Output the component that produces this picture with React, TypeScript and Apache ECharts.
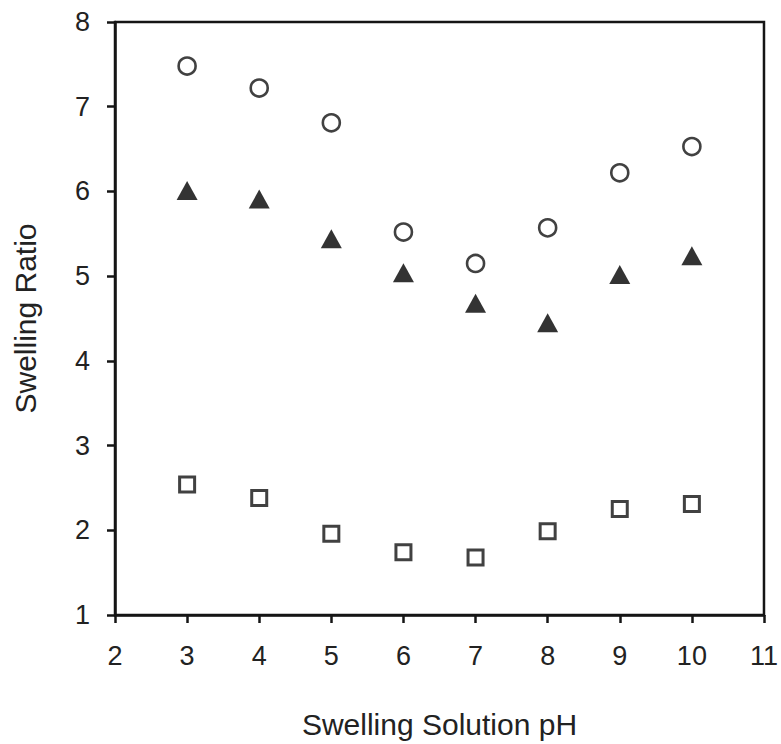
import React, { useEffect, useRef } from "react";
import * as echarts from "echarts";

const phValues = [3, 4, 5, 6, 7, 8, 9, 10];
const circleSeries = [7.48, 7.22, 6.81, 5.52, 5.15, 5.57, 6.22, 6.53];
const triangleSeries = [6.01, 5.91, 5.44, 5.04, 4.68, 4.45, 5.02, 5.24];
const squareSeries = [2.54, 2.38, 1.96, 1.74, 1.68, 1.99, 2.25, 2.31];

const xTitle = "Swelling Solution pH";
const yTitle = "Swelling Ratio";

const pairs = (ys: number[]) => phValues.map((x, i) => [x, ys[i]]);

export default function App() {
  const ref = useRef<HTMLDivElement>(null);
  useEffect(() => {
    if (!ref.current) return;
    const chart = echarts.init(ref.current, null, { renderer: "svg" });
    const font = "'Liberation Sans', Arial, sans-serif";
    const lineColor = "#151515";
    chart.setOption({
      animation: false,
      backgroundColor: "#ffffff",
      grid: {
        left: 115,
        right: 16,
        top: 22,
        bottom: 127,
        show: true,
        borderColor: lineColor,
        borderWidth: 2.5,
        backgroundColor: "transparent",
      },
      xAxis: {
        type: "value",
        min: 2,
        max: 11,
        interval: 1,
        name: xTitle,
        nameLocation: "middle",
        nameGap: 94,
        nameTextStyle: { fontFamily: font, fontSize: 30, color: "#222" },
        axisLine: { show: true, onZero: false, lineStyle: { color: lineColor, width: 2.5 } },
        axisTick: { show: true, inside: false, length: 8, lineStyle: { color: lineColor, width: 2.5 } },
        axisLabel: { fontFamily: font, fontSize: 27, color: "#222", margin: 27 },
        splitLine: { show: false },
      },
      yAxis: {
        type: "value",
        min: 1,
        max: 8,
        interval: 1,
        name: yTitle,
        nameLocation: "middle",
        nameGap: 75,
        nameTextStyle: { fontFamily: font, fontSize: 30, color: "#222" },
        axisLine: { show: true, onZero: false, lineStyle: { color: lineColor, width: 2.5 } },
        axisTick: { show: true, inside: false, length: 8, lineStyle: { color: lineColor, width: 2.5 } },
        axisLabel: { fontFamily: font, fontSize: 27, color: "#222", margin: 25 },
        splitLine: { show: false },
      },
      series: [
        {
          type: "scatter",
          data: pairs(circleSeries),
          symbol: "circle",
          symbolSize: 17,
          itemStyle: { color: "#ffffff", borderColor: "#111", borderWidth: 2.6 },
        },
        {
          type: "scatter",
          data: pairs(triangleSeries),
          symbol: "triangle",
          symbolSize: [21, 19],
          itemStyle: { color: "#000000" },
        },
        {
          type: "scatter",
          data: pairs(squareSeries),
          symbol: "rect",
          symbolSize: 15,
          itemStyle: { color: "#ffffff", borderColor: "#111", borderWidth: 3 },
        },
      ],
    });
    return () => chart.dispose();
  }, []);
  return (
    <div
      ref={ref}
      style={{ position: "fixed", left: 0, top: 0, width: 781, height: 744 }}
    />
  );
}
